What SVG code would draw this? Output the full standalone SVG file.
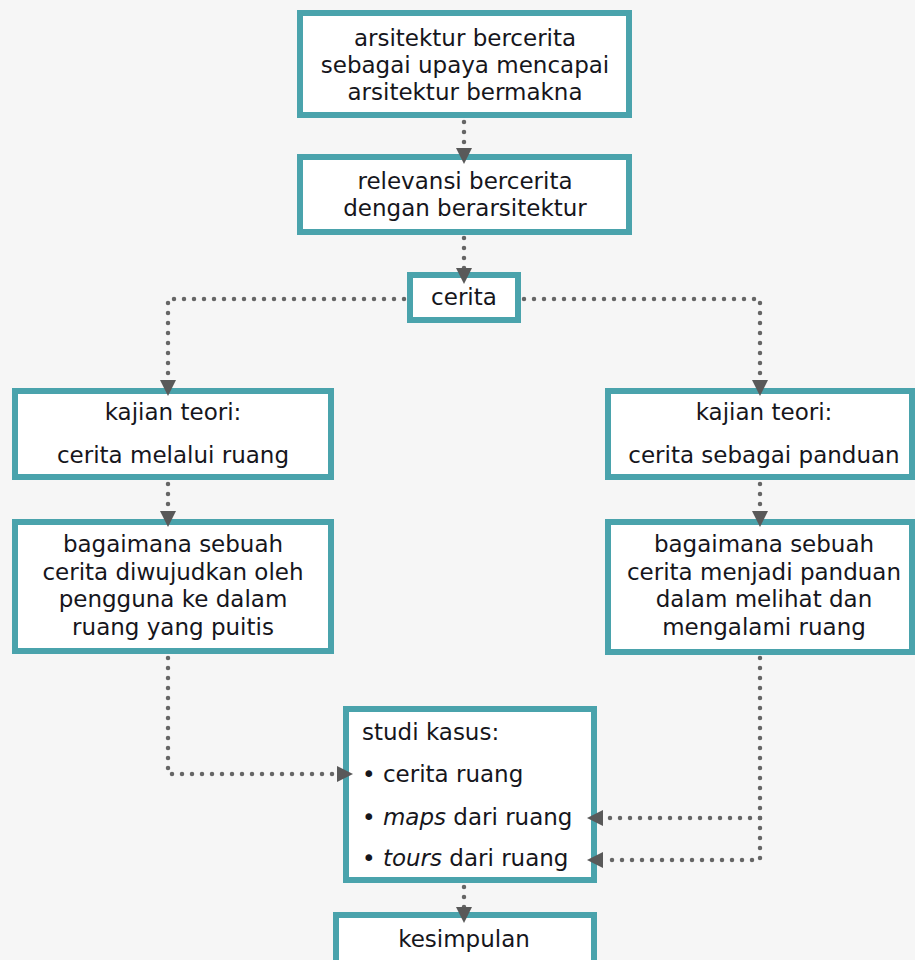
<svg xmlns="http://www.w3.org/2000/svg" width="915" height="960" viewBox="0 0 915 960">
  <defs>
    <marker id="arr" markerUnits="userSpaceOnUse" markerWidth="17" markerHeight="17" refX="1" refY="8.5" orient="auto" overflow="visible">
      <path d="M0,0.5 L16,8.5 L0,16.5 Z" fill="#595959"/>
    </marker>
    <style>
      .box { fill: #ffffff; stroke: #4aa3ac; stroke-width: 6; }
      .t { font-family: "DejaVu Sans", Verdana, sans-serif; font-size: 23px; fill: #16161c; }
      .c { text-anchor: middle; }
      .con { fill: none; stroke: #666666; stroke-width: 4.5; stroke-linecap: round; stroke-dasharray: 0 10; }
      .arw { marker-end: url(#arr); }
    </style>
  </defs>
  <rect x="0" y="0" width="915" height="960" fill="#f6f6f6"/>

  <g id="n1">
    <rect class="box" x="300" y="13" width="329" height="102"/>
    <text class="t c" x="465" y="46">arsitektur bercerita</text>
    <text class="t c" x="465" y="73">sebagai upaya mencapai</text>
    <text class="t c" x="465" y="100">arsitektur bermakna</text>
  </g>
  <g id="n2">
    <rect class="box" x="300" y="157" width="329" height="75"/>
    <text class="t c" x="465" y="189">relevansi bercerita</text>
    <text class="t c" x="465" y="216">dengan berarsitektur</text>
  </g>
  <g id="n3">
    <rect class="box" x="410" y="275" width="108" height="45"/>
    <text class="t c" x="464" y="305">cerita</text>
  </g>
  <g id="n4">
    <rect class="box" x="15" y="391" width="316" height="86"/>
    <text class="t c" x="173" y="420">kajian teori:</text>
    <text class="t c" x="173" y="463">cerita melalui ruang</text>
  </g>
  <g id="n5">
    <rect class="box" x="608" y="391" width="304" height="86"/>
    <text class="t c" x="764" y="420">kajian teori:</text>
    <text class="t c" x="764" y="463">cerita sebagai panduan</text>
  </g>
  <g id="n6">
    <rect class="box" x="15" y="522" width="316" height="129"/>
    <text class="t c" x="173" y="552">bagaimana sebuah</text>
    <text class="t c" x="173" y="580">cerita diwujudkan oleh</text>
    <text class="t c" x="173" y="607">pengguna ke dalam</text>
    <text class="t c" x="173" y="635">ruang yang puitis</text>
  </g>
  <g id="n7">
    <rect class="box" x="608" y="522" width="304" height="130"/>
    <text class="t c" x="764" y="552">bagaimana sebuah</text>
    <text class="t c" x="764" y="580">cerita menjadi panduan</text>
    <text class="t c" x="764" y="607">dalam melihat dan</text>
    <text class="t c" x="764" y="635">mengalami ruang</text>
  </g>
  <g id="n8">
    <rect class="box" x="346" y="709" width="248" height="171"/>
    <text class="t" x="362" y="740">studi kasus:</text>
    <text class="t" x="362" y="782">• cerita ruang</text>
    <text class="t" x="362" y="825">• <tspan font-style="italic">maps</tspan> dari ruang</text>
    <text class="t" x="362" y="866">• <tspan font-style="italic">tours</tspan> dari ruang</text>
  </g>
  <g id="n9">
    <rect class="box" x="336" y="915" width="258" height="60"/>
    <text class="t c" x="464" y="947">kesimpulan</text>
  </g>

  <g id="connectors">
    <path class="con arw" d="M464,122 L464,149"/>
    <path class="con arw" d="M464,238 L464,269"/>
    <path class="con arw" d="M404,299 L168,299 L168,381"/>
    <path class="con arw" d="M524,299 L760,299 L760,381"/>
    <path class="con arw" d="M168,484 L168,512"/>
    <path class="con arw" d="M760,484 L760,512"/>
    <path class="con arw" d="M168,658 L168,774 L338,774"/>
    <path class="con arw" d="M760,658 L760,860 L602,860"/>
    <path class="con arw" d="M760,818 L602,818"/>
    <path class="con arw" d="M464,887 L464,908"/>
  </g>
</svg>
